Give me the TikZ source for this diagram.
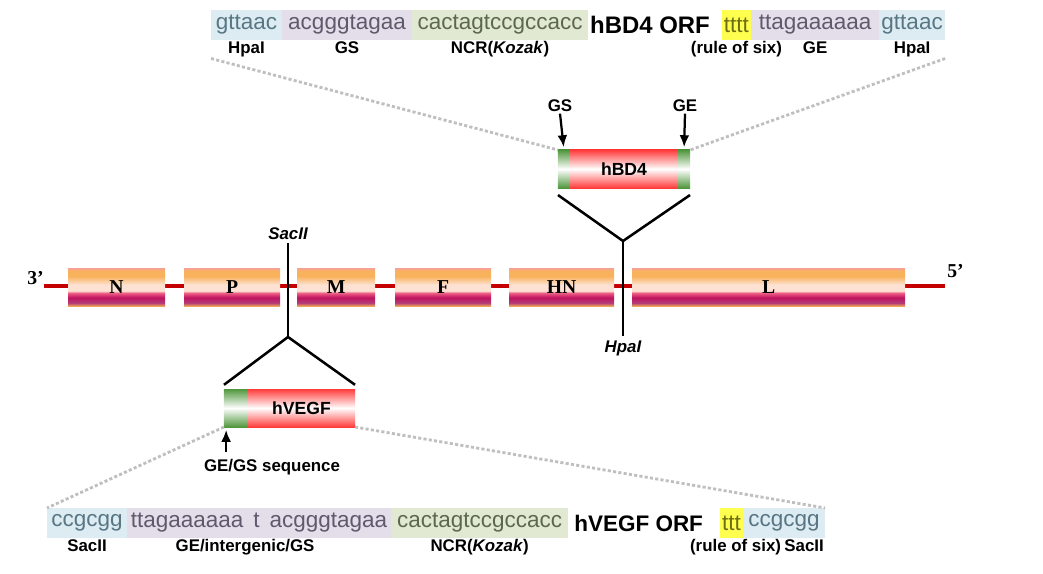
\documentclass[tikz,border=0pt]{standalone}
\usepackage{fontspec}
\setmainfont{Liberation Sans}
\newfontfamily\serifb{Liberation Serif}
\usepackage{tikz}
\usetikzlibrary{positioning, arrows.meta, calc}
\definecolor{cBlue}{RGB}{220,236,242}
\definecolor{cLav}{RGB}{228,222,235}
\definecolor{cGrn}{RGB}{225,233,210}
\definecolor{cYel}{RGB}{255,255,80}
\definecolor{tBlue}{RGB}{88,118,132}
\definecolor{tLav}{RGB}{94,90,108}
\definecolor{tGrn}{RGB}{92,104,78}
\definecolor{tYel}{RGB}{110,110,20}
\definecolor{gRed}{RGB}{255,60,60}
\definecolor{gGreen}{RGB}{80,150,60}
\definecolor{rna}{RGB}{196,0,0}
\definecolor{segTop}{RGB}{246,160,150}
\definecolor{segOrg}{RGB}{249,178,92}
\definecolor{segLight}{RGB}{253,226,212}
\definecolor{segPink}{RGB}{236,90,130}
\definecolor{segMag}{RGB}{190,20,95}
\definecolor{segMag2}{RGB}{180,60,120}
\definecolor{segBot}{RGB}{238,165,85}
\pgfdeclareverticalshading{segshade}{100bp}{color(0bp)=(segBot); color(25bp)=(segBot); color(29bp)=(segMag2); color(36bp)=(segMag); color(42bp)=(segPink); color(45bp)=(segLight); color(53bp)=(segLight); color(64bp)=(segOrg); color(71bp)=(segOrg); color(75bp)=(segTop); color(100bp)=(segTop)}

\begin{document}
\begin{tikzpicture}[x=0.025cm, y=-0.025cm,
seq/.style={rectangle, inner sep=1.5pt, outer sep=0pt, minimum height=0.75cm, font=\fontsize{16}{16}\selectfont},
orf/.style={rectangle, inner sep=1.5pt, outer sep=0pt, minimum height=0.75cm, font=\bfseries\fontsize{16}{16}\selectfont},
lbl/.style={inner sep=1pt, font=\bfseries\fontsize{12}{12}\selectfont},
site/.style={inner sep=1pt, font=\bfseries\itshape\fontsize{12}{12}\selectfont},
seg/.style={rectangle, inner sep=0pt, outer sep=0pt, minimum height=0.95cm, shading=segshade, font=\serifb\bfseries\fontsize{14}{14}\selectfont},
gene/.style={rectangle, inner sep=0pt, outer sep=0pt, minimum height=0.95cm, top color=gRed, bottom color=gRed, middle color=white, font=\bfseries\fontsize{12.5}{12.5}\selectfont},
gend/.style={rectangle, inner sep=0pt, outer sep=0pt, minimum height=0.95cm, top color=gGreen, bottom color=gGreen, middle color=white},
ends/.style={inner sep=0pt, font=\serifb\bfseries\fontsize{14}{14}\selectfont},
strand/.style={draw=rna, line width=2.8pt},
cut/.style={draw, line width=1.8pt},
post/.style={->, draw, >={Latex[length=8.5pt,width=7pt]}, line width=1.6pt, shorten >=2pt},
dots/.style={draw=gray!50, line width=2pt, dash pattern=on 2.2pt off 1.6pt}]

\useasboundingbox (0,0) rectangle (1043,573);

% top insert sequence
\node[seq, fill=cBlue, text=tBlue, anchor=west, minimum width=1.775cm] (tA) at (211,25) {gttaac};
\node[seq, fill=cLav, text=tLav, right=0pt of tA, minimum width=3.25cm] (tB) {acgggtagaa};
\node[seq, fill=cGrn, text=tGrn, right=0pt of tB, minimum width=4.4cm] (tC) {cactagtccgccacc};
\node[orf, right=0pt of tC, font=\bfseries\fontsize{17}{17}\selectfont] (tD) {hBD4 ORF};
\node[seq, fill=cYel, text=tYel, right=0.25cm of tD] (tE) {tttt};
\node[seq, fill=cLav, text=tLav, right=0pt of tE, minimum width=3.2cm] (tF) {ttagaaaaaa};
\node[seq, fill=cBlue, text=tBlue, right=0pt of tF, minimum width=1.65cm] (tG) {gttaac};

\node[lbl, below=0pt of tA] (lA) {HpaI};
\node[lbl, below=0pt of tB] (lB) {GS};
\node[lbl, below=0pt of tC] (lC) {NCR(\textit{Kozak})};
\node[lbl, below=0pt of tE] (lE) {(rule of six)};
\node[lbl, below=0pt of tF] (lF) {GE};
\node[lbl, below=0pt of tG] (lG) {HpaI};

% bottom insert sequence
\node[seq, fill=cBlue, text=tBlue, anchor=west, minimum width=2cm] (bA) at (47,523) {ccgcgg};
\node[seq, fill=cLav, text=tLav, right=0pt of bA, minimum width=6.6cm] (bB) {ttagaaaaaa\, t\, acgggtagaa};
\node[seq, fill=cGrn, text=tGrn, right=0pt of bB, minimum width=4.425cm] (bC) {cactagtccgccacc};
\node[orf, right=0.1cm of bC] (bD) {hVEGF ORF};
\node[seq, fill=cYel, text=tYel, right=0.375cm of bD] (bE) {ttt};
\node[seq, fill=cBlue, text=tBlue, right=0pt of bE, minimum width=2.05cm] (bF) {ccgcgg};

\node[lbl, below=0pt of bA] (mA) {SacII};
\node[lbl, below=0pt of bB, xshift=-0.35cm] (mB) {GE/intergenic/GS};
\node[lbl, below=0pt of bC] (mC) {NCR(\textit{Kozak})};
\node[lbl, below=0pt of bE, xshift=0.1cm] (mE) {(rule of six)};
\node[lbl, below=0pt of bF, xshift=0.5cm] (mF) {SacII};

% genome
\coordinate (r3) at (44,286);
\coordinate (r5) at (945,286);
\path[strand] (r3) -- (r5);
\node[ends, anchor=east] (three) at (44,278) {3’};
\node[ends, anchor=west] (five) at (947,271) {5’};

\node[seg, anchor=west, minimum width=2.425cm] (N) at (68,287) {N};
\node[seg, right=0.475cm of N, minimum width=2.4cm] (P) {P};
\node[seg, right=0.425cm of P, minimum width=1.95cm] (M) {M};
\node[seg, right=0.5cm of M, minimum width=2.4cm] (F) {F};
\node[seg, right=0.45cm of F, minimum width=2.625cm] (HN) {HN};
\node[seg, right=0.45cm of HN, minimum width=6.825cm] (L) {L};

% hBD4 insert
\node[gene, minimum width=2.7cm] (hbd) at (624,169) {hBD4};
\node[gend, left=0pt of hbd, minimum width=0.3cm] (gsend) {};
\node[gend, right=0pt of hbd, minimum width=0.3cm] (geend) {};

\node[lbl] (gsL) at (560,106) {GS};
\node[lbl] (geL) at (685,106) {GE};
\path[post] (gsL.south) to (gsend.north);
\path[post] (geL.south) to (geend.north);

\coordinate (hpaJ) at (623,241);
\coordinate (hpaB) at (623,336);
\path[cut] ([yshift=-5pt]gsend.south west) -- (hpaJ) -- ([yshift=-5pt]geend.south east);
\path[cut] (hpaJ) -- (hpaB);
\node[site, below=2pt of hpaB] (hpa) {HpaI};

% hVEGF insert
\node[gene, minimum width=2.675cm] (vegf) at (301.5,408) {hVEGF};
\node[gend, left=0pt of vegf, minimum width=0.6cm] (vgs) {};

\coordinate (sacT) at (288,243);
\coordinate (sacJ) at (288,337);
\node[site, above=1pt of sacT] (sac) {SacII};
\path[cut] (sacT) -- (sacJ);
\path[cut] ([yshift=3pt]vgs.north west) -- (sacJ) -- ([yshift=3pt]vegf.north east);

\node[lbl] (vlab) at (272,467) {GE/GS sequence};
\path[post] ([xshift=1.5pt,yshift=4pt]vgs.south west |- vlab.north) to ([xshift=1.5pt]vgs.south west);

% zoom lines
\path[dots] (lA.south -| tA.west) -- (gsend.north west);
\path[dots] (lG.south -| tG.east) -- (geend.north east);
\path[dots] (vgs.south west) -- (bA.north west);
\path[dots] (vegf.south east) -- (bF.north east);
\end{tikzpicture}
\end{document}
